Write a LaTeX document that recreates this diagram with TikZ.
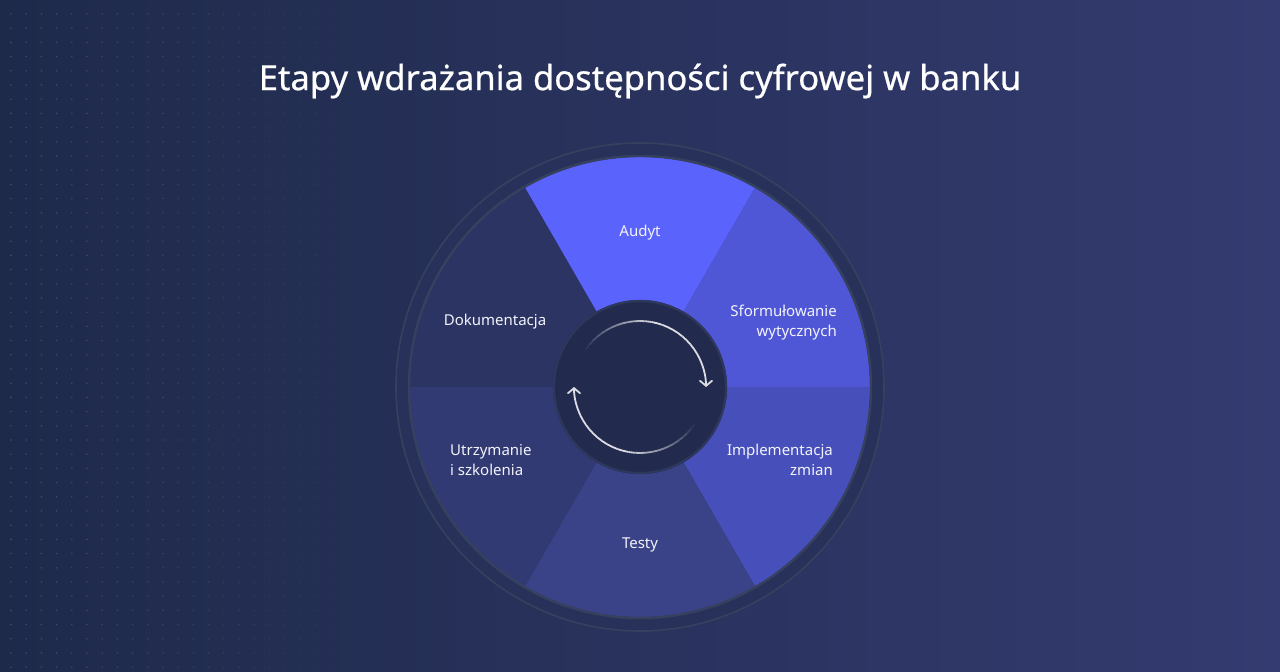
\documentclass[tikz,border=0pt]{standalone}
\usepackage{fontspec}
\setmainfont{Noto Sans}
\newfontfamily\titlefont{Noto Sans}[FakeBold=0.6]
\usetikzlibrary{arrows.meta,calc}
\definecolor{bgL}{HTML}{1E2A4A}
\definecolor{bgR}{HTML}{343B70}
\definecolor{segA}{HTML}{5B63FD}
\definecolor{segB}{HTML}{5057D7}
\definecolor{segC}{HTML}{4750BA}
\definecolor{segD}{HTML}{3B4388}
\definecolor{segE}{HTML}{323A73}
\definecolor{segF}{HTML}{2B3462}
\definecolor{ringfill}{HTML}{28315A}
\definecolor{ringline}{HTML}{36415F}
\definecolor{hubfill}{HTML}{222A4D}
\definecolor{hubline}{HTML}{2E385C}
\definecolor{arrowc}{HTML}{DCDCE4}
\definecolor{txt}{HTML}{F2F3FA}
\tikzset{
  lbl/.style={text=txt, font=\fontsize{15}{20}\selectfont, inner sep=0pt},
  arcpart/.style={draw=arrowc, line width=1.8pt},
}
\begin{document}
\begin{tikzpicture}[x=1pt,y=1pt]
\useasboundingbox (0,0) rectangle (1280,672);
% background
\shade[left color=bgL, right color=bgR] (0,0) rectangle (1280,672);
% dots
\foreach \i in {0,...,28}{
  \pgfmathsetmacro{\dx}{11+15.2*\i}
  \pgfmathsetmacro{\op}{max(0,0.16*(1-\dx/440))}
  \foreach \j in {0,...,46}{
    \fill[white, opacity=\op] (\dx,{672-14-14.2*\j}) circle (0.9);
  }
}
\coordinate (C) at (640,285);
% outer ring
\fill[ringfill] (C) circle (244);
\draw[ringline, line width=1.6pt] (C) circle (244);
% segments
\fill[segA] (C) -- ++(60:230) arc (60:120:230) -- cycle;
\fill[segB] (C) -- ++(0:230) arc (0:60:230) -- cycle;
\fill[segC] (C) -- ++(-60:230) arc (-60:0:230) -- cycle;
\fill[segD] (C) -- ++(-120:230) arc (-120:-60:230) -- cycle;
\fill[segE] (C) -- ++(180:230) arc (180:240:230) -- cycle;
\fill[segF] (C) -- ++(120:230) arc (120:180:230) -- cycle;
\draw[ringline, line width=2.4pt] (C) circle (231);
% hub
\fill[hubfill] (C) circle (87);
\draw[hubline, line width=2.2pt] (C) circle (86);
% arrows (fading arcs)
\foreach \k in {0,...,23}{
  \pgfmathsetmacro{\a}{150-5*\k}
  \pgfmathsetmacro{\b}{145-5*\k}
  \pgfmathsetmacro{\o}{min(1,\k/14)}
  \draw[arcpart, draw opacity=\o] ($(C)+(\a:66)$) arc (\a:\b:66);
}
\draw[arcpart, -{Straight Barb[length=5pt,width=12pt,line cap=round]}] (C) ++(30:66) arc (30:0:66) coordinate (t1);
\foreach \k in {0,...,23}{
  \pgfmathsetmacro{\a}{-30-5*\k}
  \pgfmathsetmacro{\b}{-35-5*\k}
  \pgfmathsetmacro{\o}{min(1,\k/14)}
  \draw[arcpart, draw opacity=\o] ($(C)+(\a:66)$) arc (\a:\b:66);
}
\draw[arcpart, -{Straight Barb[length=5pt,width=12pt,line cap=round]}] (C) ++(-150:66) arc (-150:-180:66) coordinate (t2);
% title
\node[text=white, font=\titlefont\fontsize{34.6}{40}\selectfont, inner sep=0pt] (title) at (640,591) {Etapy wdrażania dostępności cyfrowej w banku};
% labels
\node[lbl] (audyt) at (640,439) {Audyt};
\node[lbl, anchor=east, align=right] (sform) at (837,349) {Sformułowanie\\wytycznych};
\node[lbl, anchor=east, align=right] (impl) at (833,212) {Implementacja\\zmian};
\node[lbl] (testy) at (640,127) {Testy};
\node[lbl, anchor=west, align=left] (utrz) at (450,212) {Utrzymanie\\i szkolenia};
\node[lbl] (dok) at (495,350) {Dokumentacja};
\end{tikzpicture}
\end{document}
